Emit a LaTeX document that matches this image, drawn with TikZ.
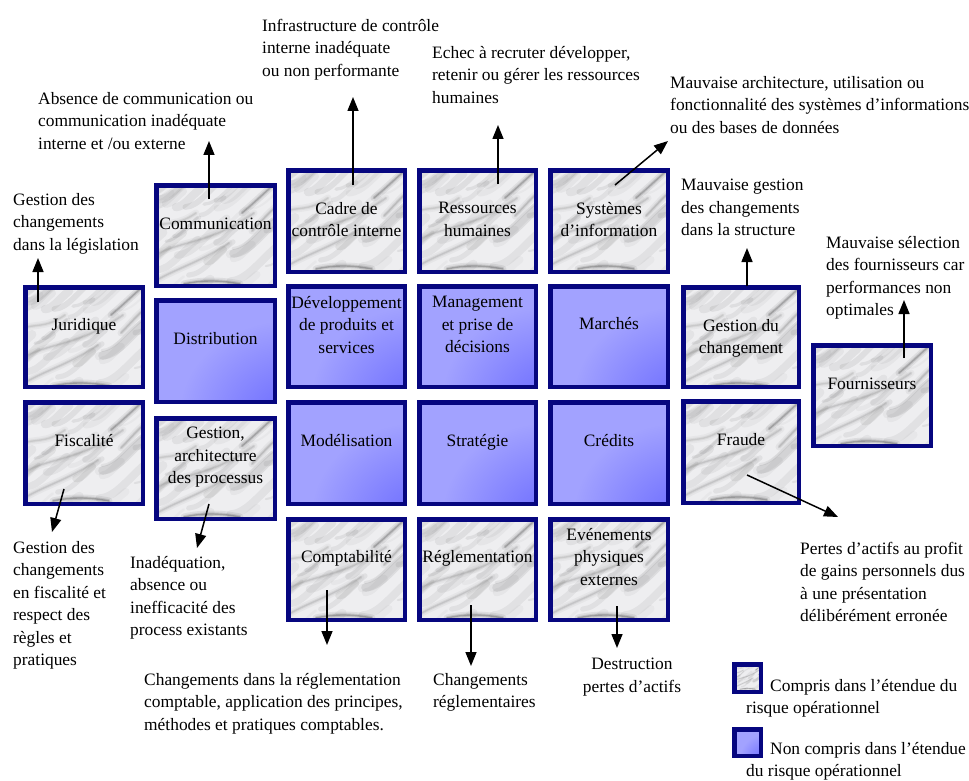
\documentclass[tikz,border=0pt]{standalone}
\usepackage{fontspec}
\setmainfont{Liberation Serif}
\usetikzlibrary{arrows.meta}

\definecolor{navy}{HTML}{06067F}
\definecolor{marblebase}{HTML}{EEEEF0}
\definecolor{bluelight}{HTML}{A2A2FF}
\definecolor{bluemid}{HTML}{7878FF}
\definecolor{bluedark}{HTML}{4444FF}

% blue fill: darkest in the lower right corner
\pgfdeclareradialshading{bluecorner}{\pgfpoint{40bp}{-40bp}}{%
  color(0bp)=(bluedark); color(18bp)=(bluemid); color(46bp)=(bluelight);
  color(200bp)=(bluelight)}

\newcommand{\boxfont}{\fontsize{17.4}{22.5}\selectfont}

% one soft vein of the marble pattern (#1 colour, #2 path, #3 scale)
\newcommand{\vein}[3]{%
  \draw[#1, line width={7*#3}, opacity=.08, line cap=round] #2;
  \draw[#1, line width={3.5*#3}, opacity=.12, line cap=round] #2;
  \draw[#1, line width={1.4*#3}, opacity=.22, line cap=round] #2;}

% marble tile in box coordinates (about 122 x 106, y downwards);
% the seed is reset so every box shows the same tile
\newcommand{\marbleveins}[1]{%
  \pgfmathsetseed{11}
  \foreach \i in {1,...,44}{
    \pgfmathsetmacro\xa{rnd*150-25}
    \pgfmathsetmacro\ya{rnd*125-5}
    \pgfmathsetmacro\ll{15+rnd*40}
    \pgfmathsetmacro\ww{(2+rnd*8)*#1}
    \pgfmathsetmacro\oo{0.025+rnd*0.05}
    \pgfmathsetmacro\xb{\xa+\ll}
    \pgfmathsetmacro\yb{\ya-\ll*0.75}
    \draw[black, line width=\ww pt, opacity=\oo, line cap=round]
      (\xa,\ya) .. controls ({\xa+\ll*0.35},{\ya-\ll*0.02})
      and ({\xb-\ll*0.4},{\yb+\ll*0.3}) .. (\xb,\yb);
  }
  \vein{black!85}{(88,30) .. controls (100,20) and (110,10) .. (124,-2)}{#1}
  \vein{black!60}{(98,48) .. controls (106,40) and (114,30) .. (124,22)}{#1}
  \vein{black!50}{(-2,74) .. controls (25,57) and (55,62) .. (100,30)}{#1}
  \vein{black!50}{(-2,100) .. controls (20,86) and (45,80) .. (75,60)}{#1}
  \vein{black!90}{(30,101) .. controls (48,97) and (66,97) .. (86,101)}{#1}
  \vein{black!45}{(-2,44) .. controls (12,38) and (22,44) .. (42,30)}{#1}}

\tikzset{
  framepath/.style={draw=navy, line width=4.5pt},
  frame/.style={framepath, inner sep=0pt, outer sep=0pt},
  marblefill/.style={fill=marblebase, inner sep=0pt, outer sep=0pt},
  bluebox/.style={frame, shade, shading=bluecorner},
  inlbl/.style={font=\boxfont, inner sep=0pt, align=center, anchor=north,
    execute at begin node=\strut},
  outlbl/.style={font=\boxfont, inner sep=0pt, align=left, anchor=north west,
    execute at begin node=\strut},
  arr/.style={-{Triangle[width=11pt,length=14pt]}, line width=1.5pt, black},
}

% \bluerisk{name}{x1}{y1}{x2}{y2}: box given by its outer edges
\newcommand{\bluerisk}[5]{%
  \node[bluebox, minimum width={#4-#2-4.5}, minimum height={#5-#3-4.5}]
    (#1) at ({(#2+#4)/2},{(#3+#5)/2}) {};}

% \marblerisk{name}{x1}{y1}{x2}{y2}{tile scale}
\newcommand{\marblerisk}[6]{%
  \node[marblefill, minimum width={#4-#2-4.5}, minimum height={#5-#3-4.5}]
    (#1) at ({(#2+#4)/2},{(#3+#5)/2}) {};
  \begin{scope}
    \clip (#1.north west) rectangle (#1.south east);
    \begin{scope}[shift={(#2,#3)}, scale=#6]
      \marbleveins{#6}
    \end{scope}
  \end{scope}
  \draw[framepath] (#1.north west) rectangle (#1.south east);}

\begin{document}
\begin{tikzpicture}[x=1pt, y=-1pt]
\useasboundingbox (0,0) rectangle (969,781);

% ---------- boxes ----------
\marblerisk{comm}{154}{183}{277}{288}{1}
\marblerisk{cadre}{286}{168}{407}{274}{1}
\marblerisk{rh}{417}{168}{538}{274}{1}
\marblerisk{si}{548}{168}{670}{274}{1}

\marblerisk{jur}{23}{285}{145}{389}{1}
\bluerisk{dist}{154}{298}{277}{404}
\bluerisk{dev}{286}{284}{407}{389}
\bluerisk{mgmt}{417}{284}{538}{389}
\bluerisk{march}{548}{284}{670}{389}
\marblerisk{gchg}{681}{285}{801}{389}{1}
\marblerisk{fourn}{811}{343}{933}{448}{1}

\marblerisk{fisc}{23}{400}{145}{506}{1}
\marblerisk{gproc}{154}{416}{277}{521}{1}
\bluerisk{model}{286}{400}{407}{506}
\bluerisk{strat}{417}{400}{538}{506}
\bluerisk{cred}{548}{400}{670}{506}
\marblerisk{fraude}{681}{399}{801}{505}{1}

\marblerisk{compta}{286}{517}{407}{622}{1}
\marblerisk{regl}{417}{517}{538}{622}{1}
\marblerisk{evt}{548}{517}{670}{622}{1}

% ---------- box titles ----------
\node[inlbl] (commT)   at (215.5,214) {Communication};
\node[inlbl] (cadreT)  at (346.5,202) {Cadre de\\contrôle interne};
\node[inlbl] (rhT)     at (477.5,202) {Ressources\\humaines};
\node[inlbl] (siT)     at (609,202)   {Systèmes\\d’information};
\node[inlbl] (jurT)    at (84,315)    {Juridique};
\node[inlbl] (distT)   at (215.5,329) {Distribution};
\node[inlbl] (devT)    at (346.5,296) {Développement\\de produits et\\services};
\node[inlbl] (mgmtT)   at (477.5,296) {Management\\et prise de\\décisions};
\node[inlbl] (marchT)  at (609,314)   {Marchés};
\node[inlbl] (gchgT)   at (741,319)   {Gestion du\\changement};
\node[inlbl] (fournT)  at (872,374)   {Fournisseurs};
\node[inlbl] (fiscT)   at (84,431)    {Fiscalité};
\node[inlbl] (gprocT)  at (215.5,427) {Gestion,\\architecture\\des processus};
\node[inlbl] (modelT)  at (346.5,431) {Modélisation};
\node[inlbl] (stratT)  at (477.5,431) {Stratégie};
\node[inlbl] (credT)   at (609,431)   {Crédits};
\node[inlbl] (fraudeT) at (741,430)   {Fraude};
\node[inlbl] (comptaT) at (346.5,547) {Comptabilité};
\node[inlbl] (reglT)   at (477.5,547) {Réglementation};
\node[inlbl] (evtT)    at (609,528)   {Evénements\\physiques\\externes};

% ---------- risk descriptions ----------
\node[outlbl] (infraL) at (262,19)
  {Infrastructure de contrôle\\interne inadéquate\\ou non performante};
\node[outlbl] (echecL) at (432,46)
  {Echec à recruter développer,\\retenir ou gérer les ressources\\humaines};
\node[outlbl] (absL) at (38,92)
  {Absence de communication ou\\communication inadéquate\\interne et /ou externe};
\node[outlbl] (legL) at (13,193)
  {Gestion des\\changements\\dans la législation};
\node[outlbl] (archL) at (670,76)
  {Mauvaise architecture, utilisation ou\\fonctionnalité des systèmes d’informations\\ou des bases de données};
\node[outlbl] (structL) at (681,179)
  {Mauvaise gestion\\des changements\\dans la structure};
\node[outlbl] (fournL) at (826,236)
  {Mauvaise sélection\\des fournisseurs car\\performances non\\optimales};
\node[outlbl] (pertesL) at (800,542)
  {Pertes d’actifs au profit\\de gains personnels dus\\à une présentation\\délibérément erronée};
\node[outlbl] (fiscL) at (13,541)
  {Gestion des\\changements\\en fiscalité et\\respect des\\règles et\\pratiques};
\node[outlbl] (procL) at (130,556)
  {Inadéquation,\\absence ou\\inefficacité des\\process existants};
\node[outlbl] (comptaL) at (144,673)
  {Changements dans la réglementation\\comptable, application des principes,\\méthodes et pratiques comptables.};
\node[outlbl] (reglL) at (433,673)
  {Changements\\réglementaires};
\node[inlbl] (evtL) at (632,658)
  {Destruction\\pertes d’actifs};

% ---------- arrows ----------
\coordinate (commA)   at (209,199);  \coordinate (commB)   at (209,141);
\coordinate (jurA)    at (38,302);   \coordinate (jurB)    at (38,258);
\coordinate (cadreA)  at (353,185);  \coordinate (cadreB)  at (353,97);
\coordinate (rhA)     at (498,184);  \coordinate (rhB)     at (498,125);
\coordinate (siA)     at (615,185);  \coordinate (siB)     at (668,141);
\coordinate (gchgA)   at (747,286);  \coordinate (gchgB)   at (747,248);
\coordinate (fournA)  at (904,358);  \coordinate (fournB)  at (904,300);
\coordinate (fraudeA) at (747,475);  \coordinate (fraudeB) at (838,517);
\coordinate (fiscA)   at (64,489);   \coordinate (fiscB)   at (52,532);
\coordinate (gprocA)  at (209,504);  \coordinate (gprocB)  at (197,548);
\coordinate (comptaA) at (327,590);  \coordinate (comptaB) at (327,645);
\coordinate (reglA)   at (471,605);  \coordinate (reglB)   at (471,666);
\coordinate (evtA)    at (617,606);  \coordinate (evtB)    at (617,648);

\foreach \k in {comm,jur,cadre,rh,si,gchg,fourn,fraude,fisc,gproc,compta,regl,evt}
  \draw[arr] (\k A) -- (\k B);

% ---------- legend ----------
\marblerisk{legMarble}{732}{662}{763}{694}{0.27}
\bluerisk{legBlue}{732}{727}{763}{758}
\node[outlbl] (legMarbleL) at (746,679)
  {\hspace*{24pt}Compris dans l’étendue du\\risque opérationnel};
\node[outlbl] (legBlueL) at (746,742)
  {\hspace*{24pt}Non compris dans l’étendue\\du risque opérationnel};
\end{tikzpicture}
\end{document}
